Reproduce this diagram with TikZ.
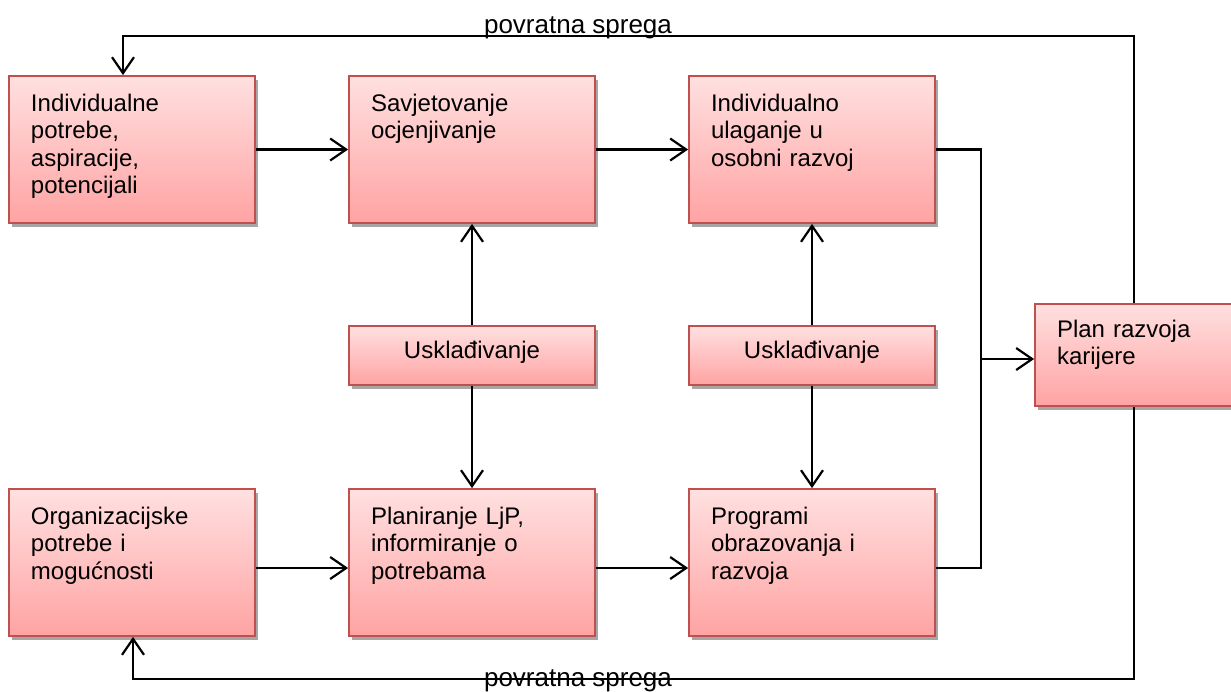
\documentclass[tikz,border=0pt]{standalone}
\usepackage{fontspec}
\setmainfont{Liberation Sans}
\usetikzlibrary{arrows.meta,shadows}
\definecolor{192_80_77}{RGB}{192, 80, 77}
\definecolor{255_224_224}{RGB}{255, 224, 224}
\definecolor{255_163_163}{RGB}{255, 163, 163}
\definecolor{black}{RGB}{0, 0, 0}

\begin{document}
\begin{tikzpicture}[
        x=0.5pt, y=-0.5pt,
        font=\fontsize{12}{13.8}\selectfont,
        box/.style={
            draw=192_80_77,
            line width=0.9pt,
            top color=255_224_224,
            bottom color=255_163_163,
            drop shadow={shadow xshift=1.5pt, shadow yshift=-2pt, fill=black!35, opacity=1},
            inner xsep=11pt,
            inner ysep=0pt,
            align=left,
            text width=101pt,
            text height=17.5pt,
            text depth=56pt
        },
        planbox/.style={
            box,
            text width=77pt,
            text height=16.5pt,
            text depth=34.5pt
        },
        syncbox/.style={
            box,
            align=center,
            text height=16pt,
            text depth=13.5pt
        },
        line/.style={draw=black, line width=1.1pt},
        link/.style={
            line,
            -{Straight Barb[length=8pt, width=11pt]}
        },
        fblabel/.style={
            font=\fontsize{13}{15}\selectfont,
            inner sep=0pt,
            anchor=base
        }
    ]
    \useasboundingbox (0,0) rectangle (1231,691);

    \node[box] (indiv) at (132,149.5) {Individualne\\potrebe,\\aspiracije,\\potencijali};
    \node[box] (savjet) at (472,149.5) {Savjetovanje\\ocjenjivanje};
    \node[box] (ulaganje) at (812,149.5) {Individualno\\ulaganje u\\osobni razvoj};
    \node[syncbox] (uskl1) at (472,355.5) {Usklađivanje};
    \node[syncbox] (uskl2) at (812,355.5) {Usklađivanje};
    \node[box] (org) at (132,562.5) {Organizacijske\\potrebe i\\mogućnosti};
    \node[box] (planljp) at (472,562.5) {Planiranje LjP,\\informiranje o\\potrebama};
    \node[box] (programi) at (812,562.5) {Programi\\obrazovanja i\\razvoja};
    \node[planbox] (plan) at (1134,355) {Plan razvoja\\karijere};

    \coordinate (merge) at (981,359);

    \draw[link] (indiv) -- (savjet);
    \draw[link] (savjet) -- (ulaganje);
    \draw[link] ([yshift=-2.75pt]org.east) -- ([yshift=-2.75pt]planljp.west);
    \draw[link] ([yshift=-2.75pt]planljp.east) -- ([yshift=-2.75pt]programi.west);
    \draw[link] (uskl1) -- (savjet);
    \draw[link] (uskl1) -- (planljp);
    \draw[link] (uskl2) -- (ulaganje);
    \draw[link] (uskl2) -- (programi);
    \draw[line] (ulaganje.east) -| (merge);
    \draw[line] ([yshift=-2.75pt]programi.east) -| (merge);
    \draw[link] (merge) -- (merge -| plan.west);
    \draw[link] (plan.north) -- ++(0,-267) -| ([xshift=-4.5pt]indiv.north);
    \draw[link] (plan.south) -- ++(0,272) -| ([xshift=0.5pt]org.south);

    \node[fblabel] (fbtop) at (578,33) {povratna sprega};
    \node[fblabel] (fbbottom) at (578,686) {povratna sprega};
\end{tikzpicture}
\end{document}
